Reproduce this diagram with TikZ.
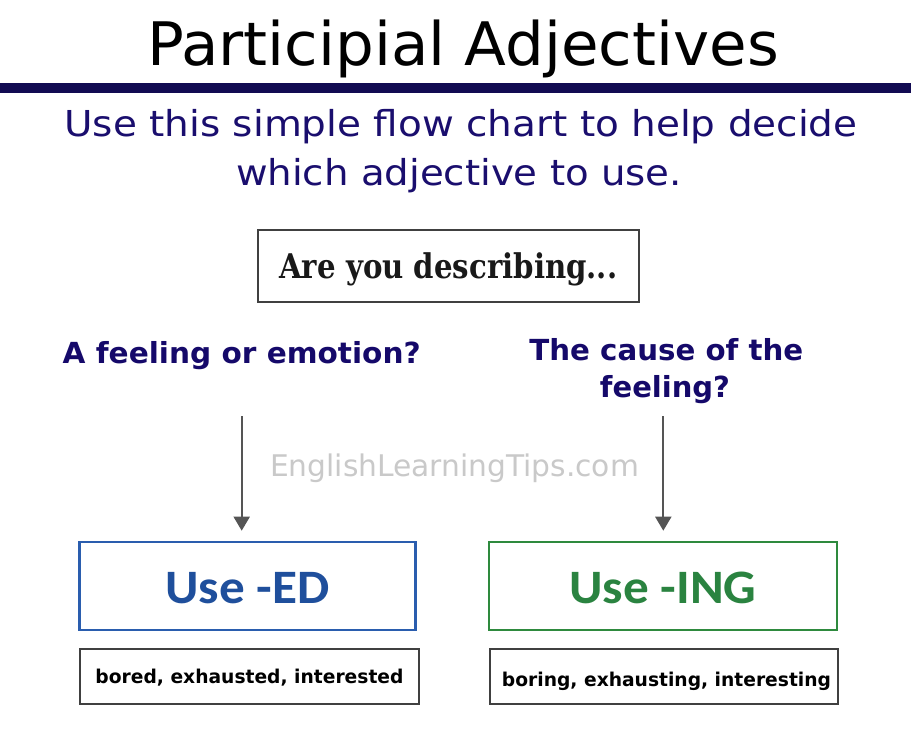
\documentclass[tikz,border=0pt]{standalone}
\usepackage{fontspec}
\setmainfont{DejaVu Sans}
\newfontfamily\serifbold{DejaVu Serif}
\newfontfamily\carlito{Carlito}
\usetikzlibrary{arrows.meta}
\newcommand{\fitto}[2]{\resizebox{#1}{\height}{#2}}
\definecolor{barnavy}{HTML}{120B52}
\definecolor{subnavy}{HTML}{1A0E6E}
\definecolor{qnavy}{HTML}{15096A}
\definecolor{edblue}{HTML}{2A5DAE}
\definecolor{edtext}{HTML}{1F4F9C}
\definecolor{inggreen}{HTML}{2E8A3E}
\definecolor{ingtext}{HTML}{2A8340}
\definecolor{wmgray}{HTML}{C9C9C9}
\definecolor{arrowgray}{HTML}{555555}
\definecolor{boxgray}{HTML}{404040}
\tikzset{
  txt/.style={inner sep=0pt, anchor=base},
  question/.style={txt, text=qnavy, font=\bfseries\fontsize{29}{34}\selectfont},
  plainbox/.style={draw=boxgray, line width=2pt, inner sep=0pt, fill=white},
  colbox/.style={line width=2.4pt, inner sep=0pt, fill=white},
  wordsfont/.style={font=\bfseries\fontsize{19}{22}\selectfont},
  arr/.style={draw=arrowgray, line width=2pt, -{Triangle[length=14pt,width=16pt]}},
}
\begin{document}
\begin{tikzpicture}[x=1pt,y=-1pt]
\useasboundingbox (0,0) rectangle (911,732);
\fill[white] (0,0) rectangle (911,732);
% title
\node[txt, font=\fontsize{60}{70}\selectfont] (title) at (463,65) {\fitto{632pt}{Participial Adjectives}};
\node[fill=barnavy, minimum width=911pt, minimum height=10pt, inner sep=0pt, anchor=north west] (bar) at (0,83) {};
% subtitle
\node[txt, text=subnavy, font=\fontsize{35.7}{49}\selectfont] (sub1) at (461,136) {\fitto{793pt}{Use this simple flow chart to help decide}};
\node[txt, text=subnavy, font=\fontsize{35.7}{49}\selectfont] (sub2) at (459,185) {\fitto{446pt}{which adjective to use.}};
% question box
\node[plainbox, minimum width=381.3pt, minimum height=72.3pt, text height=26pt, text depth=1.8pt, font=\serifbold\bfseries\fontsize{34}{40}\selectfont, text=black!90] (ask) at (448.3,266.2) {\fitto{338pt}{Are you describing...}};
% questions
\node[question] (qleft) at (241.7,363.3) {\fitto{358pt}{A feeling or emotion?}};
\node[question] (qright1) at (666.3,360) {\fitto{274pt}{The cause of the}};
\node[question] (qright2) at (665,397) {\fitto{130pt}{feeling?}};
% watermark
\node[txt, text=wmgray, font=\fontsize{29.8}{34}\selectfont] (wm) at (454.5,476.7) {\fitto{369pt}{EnglishLearningTips.com}};
% result boxes
\node[colbox, draw=edblue, text=edtext, minimum width=336pt, minimum height=87.6pt, text height=34pt, text depth=0pt, font=\carlito\bfseries\fontsize{48}{56}\selectfont] (ed) at (247.5,586) {\fitto{164pt}{Use -ED}};
\node[colbox, draw=inggreen, text=ingtext, minimum width=348.2pt, minimum height=87.6pt, text height=34pt, text depth=0pt, font=\carlito\bfseries\fontsize{48}{56}\selectfont] (ing) at (663,586) {\fitto{187pt}{Use -ING}};
% example boxes
\node[plainbox, wordsfont, minimum width=339pt, minimum height=54.7pt, text height=15pt, text depth=2.4pt] (edex) at (249.5,676.7) {\fitto{308pt}{bored, exhausted, interested}};
\node[plainbox, wordsfont, minimum width=348pt, minimum height=54.7pt, text height=20pt, text depth=1.4pt] (ingex) at (664,676.7) {\hspace*{5pt}\fitto{329pt}{boring, exhausting, interesting}};
% arrows
\coordinate (la) at (241.7,416);
\coordinate (ra) at (663.3,416);
\draw[arr, shorten >=10.3pt] (la) -- (la |- ed.north);
\draw[arr, shorten >=10.3pt] (ra) -- (ra |- ing.north);
\end{tikzpicture}
\end{document}
